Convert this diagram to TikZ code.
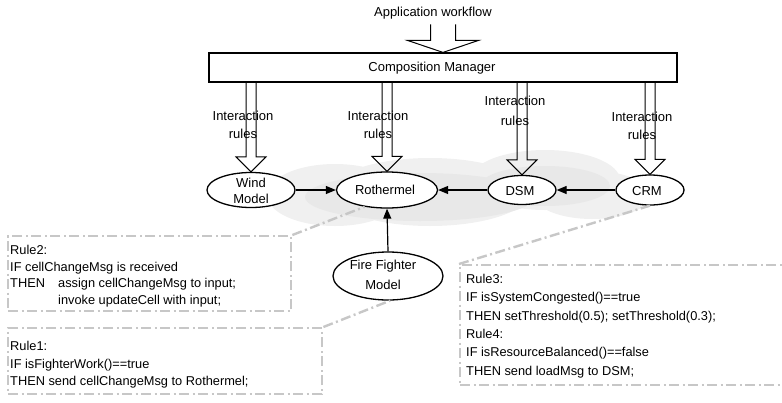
\documentclass[tikz,border=0pt]{standalone}
\usepackage{fontspec}
\setmainfont{Liberation Sans}
\usetikzlibrary{arrows.meta,calc,shapes.geometric}
\begin{document}
\begin{tikzpicture}[x=1pt,y=-1pt,
  every node/.style={font=\fontsize{13}{16}\selectfont},
  ell/.style={draw,ellipse,fill=white,line width=1.3pt,inner sep=0pt},
  hollow/.style={draw,line width=1pt,line join=miter},
  conn/.style={line width=1.2pt,-{Triangle[length=10pt,width=8pt]}},
  dashgray/.style={draw=black!22,line width=2.4pt,dash pattern=on 10pt off 3.5pt on 2pt off 3.5pt},
  rbox/.style={dashgray,rectangle,inner sep=0pt,anchor=north west},
  rline/.style={anchor=base west,inner sep=0pt,font=\fontsize{12.8}{15}\selectfont},
  lbl/.style={align=center,inner sep=0pt}
]
\useasboundingbox (0,0) rectangle (782,402);

% cloud
\fill[black!6] (335,195) ellipse [x radius=68,y radius=31]
               (430,192) ellipse [x radius=100,y radius=34]
               (545,180) ellipse [x radius=75,y radius=30]
               (592,195) ellipse [x radius=58,y radius=24];
\fill[black!9] (420,197) ellipse [x radius=115,y radius=24]
                (545,186) ellipse [x radius=65,y radius=20];

% top
\node[inner sep=0pt] (aw) at (433,13) {Application workflow};
\node[draw,line width=1.2pt,rectangle,minimum width=468pt,minimum height=29pt,inner sep=0pt] (cm) at (443,67.5) {};
\node[inner sep=0pt] (cmt) at (432,68) {Composition Manager};
\draw[hollow] ($(cm.north)+(-12.5,-28)$) -- ($(cm.north)+(-12.5,-12)$) -- ($(cm.north)+(-35.5,-12)$)
   -- (cm.north) -- ($(cm.north)+(35.5,-12)$) -- ($(cm.north)+(12.5,-12)$) -- ($(cm.north)+(12.5,-28)$);

% model nodes
\node[ell,minimum width=88pt,minimum height=35pt] (wind) at (251,190) {};
\node[lbl] (windt) at (251,191) {Wind\\Model};
\node[ell,minimum width=101pt,minimum height=36pt] (roth) at (387,190) {};
\node[inner sep=0pt] (rotht) at (385,190) {Rothermel};
\node[ell,minimum width=68pt,minimum height=29pt] (dsm) at (522,190) {};
\node[inner sep=0pt] (dsmt) at (520,191) {DSM};
\node[ell,minimum width=68pt,minimum height=30pt] (crm) at (650,190) {};
\node[inner sep=0pt] (crmt) at (647,191) {CRM};
\node[ell,minimum width=110pt,minimum height=48pt] (ff) at (388,276) {};
\node[lbl,font=\fontsize{13}{20}\selectfont] (fft) at (383,275) {Fire Fighter\\Model};

% interaction arrows
\newcommand\irarrow[1]{%
 \draw[hollow] ($(cm.south -| #1.north)+(-5,0)$) -- ($(#1.north)+(-5,-15)$) -- ($(#1.north)+(-15,-15)$)
   -- (#1.north) -- ($(#1.north)+(15,-15)$) -- ($(#1.north)+(5,-15)$) -- ($(cm.south -| #1.north)+(5,0)$);}
\irarrow{wind}
\irarrow{roth}
\irarrow{dsm}
\irarrow{crm}

\node[lbl,font=\fontsize{13}{18}\selectfont] (l1) at (243,125) {Interaction\\rules};
\node[lbl,font=\fontsize{13}{18}\selectfont] (l2) at (378,125) {Interaction\\rules};
\node[lbl,font=\fontsize{13}{20}\selectfont] (l3) at (515,111) {Interaction\\rules};
\node[lbl,font=\fontsize{13}{18}\selectfont] (l4) at (642,126) {Interaction\\rules};

% connectors
\draw[conn] (wind.east) -- (roth.west);
\draw[conn] (dsm.west) -- (roth.east);
\draw[conn] (crm.west) -- (dsm.east);
\draw[conn] (ff.north) -- (roth.south);

% rule boxes
\node[rbox,minimum width=283pt,minimum height=75pt] (r2) at (7,235) {};
\node[rbox,minimum width=314pt,minimum height=66pt] (r1) at (7,327) {};
\node[rbox,minimum width=345pt,minimum height=120pt] (r3) at (459,264) {};
\draw[dashgray] (r2.north east) -- (roth.-143);
\draw[dashgray] (r1.north east) -- (ff.-85);
\draw[dashgray] (r3.north west) -- (crm.south);

\node[rline] (r2a) at (10,254.5) {Rule2:};
\node[rline] (r2b) at (10,271) {IF cellChangeMsg is received};
\node[rline] (r2c) at (10,287.5) {\makebox[48pt][l]{THEN}assign cellChangeMsg to input;};
\node[rline] (r2d) at (58,304) {invoke updateCell with input;};

\node[rline] (r1a) at (10,350.5) {Rule1:};
\node[rline] (r1b) at (10,368) {IF isFighterWork()==true};
\node[rline] (r1c) at (10,385.5) {THEN send cellChangeMsg to Rothermel;};

\node[rline] (r3a) at (466,283.5) {Rule3:};
\node[rline] (r3b) at (466,301.8) {IF isSystemCongested()==true};
\node[rline] (r3c) at (466,320.1) {THEN setThreshold(0.5); setThreshold(0.3);};
\node[rline] (r3d) at (466,338.4) {Rule4:};
\node[rline] (r3e) at (466,356.7) {IF isResourceBalanced()==false};
\node[rline] (r3f) at (466,375) {THEN send loadMsg to DSM;};
\end{tikzpicture}
\end{document}
